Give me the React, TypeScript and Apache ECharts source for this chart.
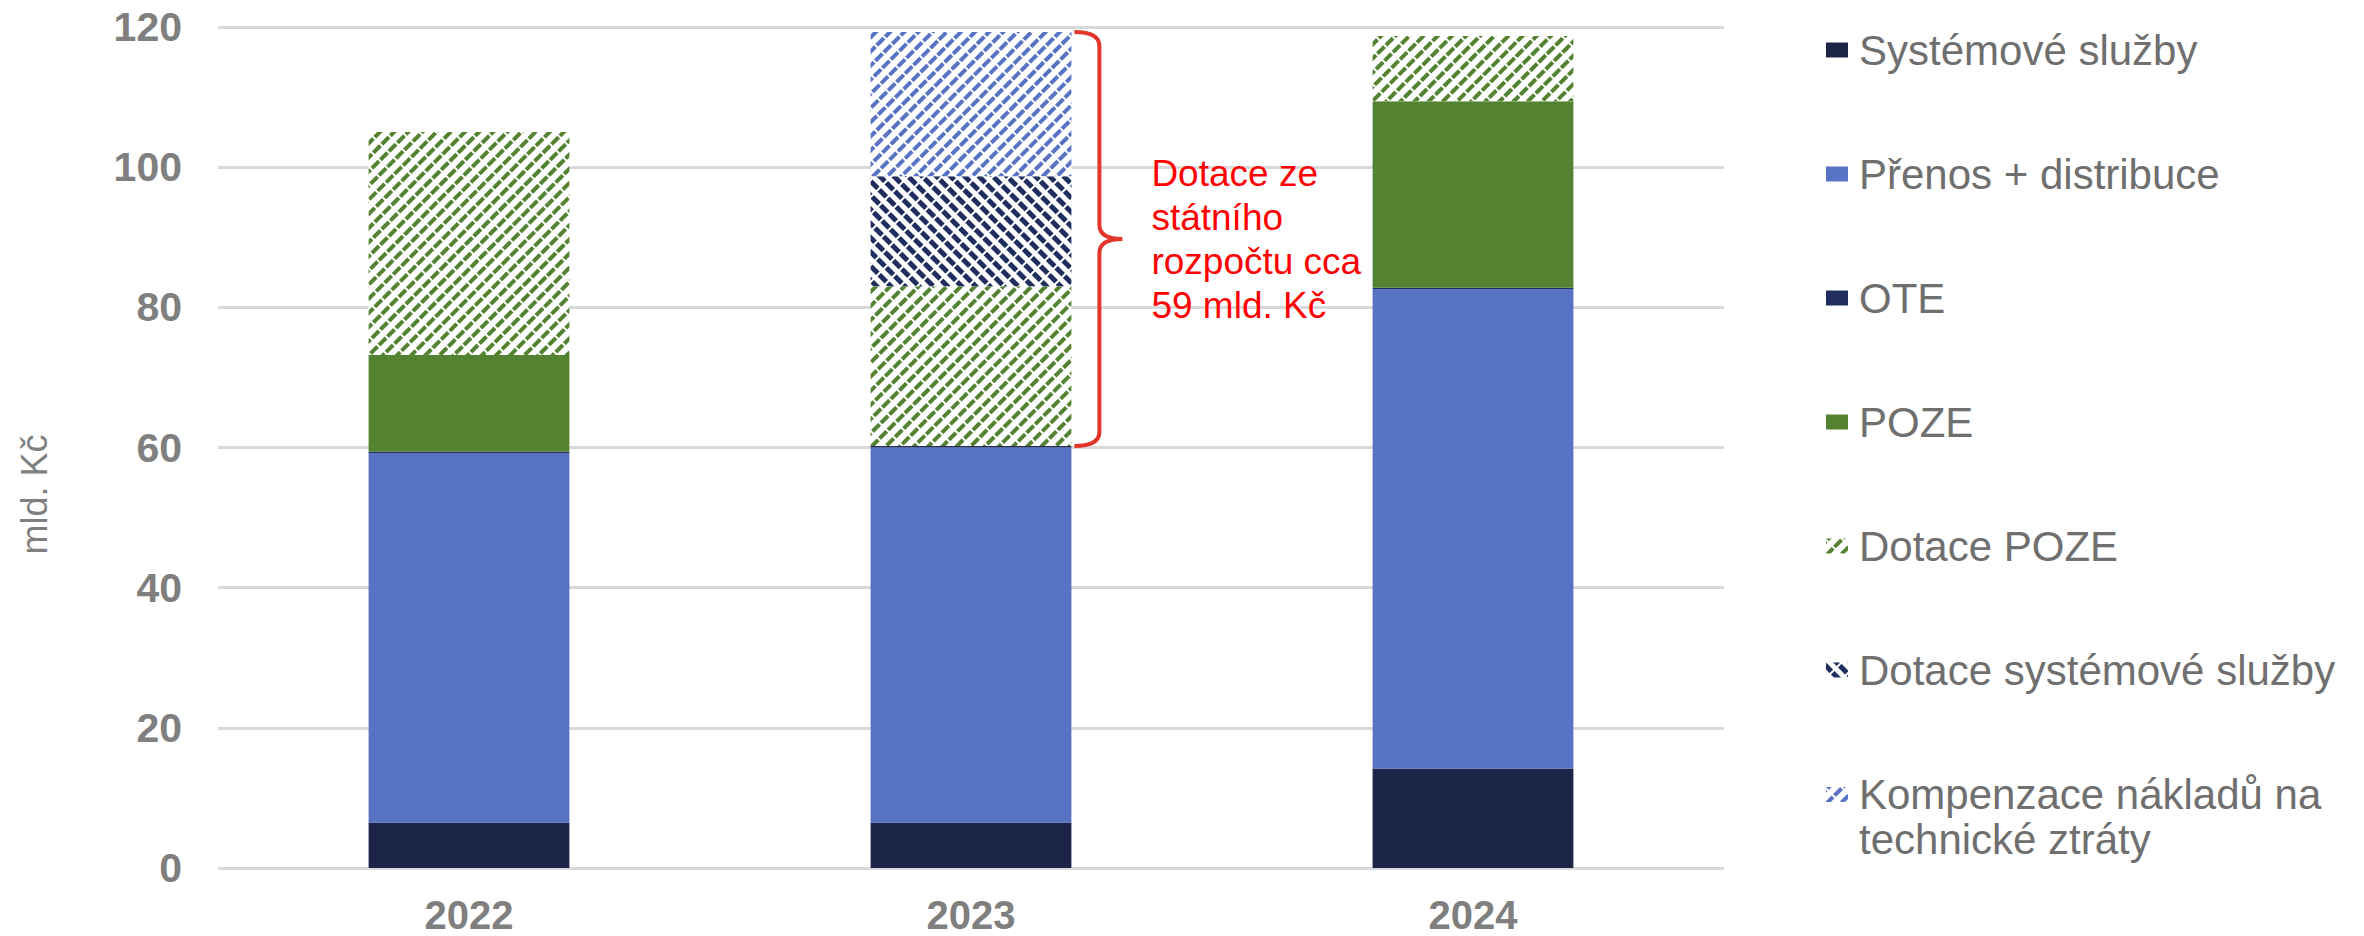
import React, { useEffect, useRef } from "react";
import * as echarts from "echarts";

const years = ["2022", "2023", "2024"];

const NAME_SYS = "Systémové služby";
const NAME_PRENOS = "Přenos + distribuce";
const NAME_OTE = "OTE";
const NAME_POZE = "POZE";
const NAME_DOT_POZE = "Dotace POZE";
const NAME_DOT_SYS = "Dotace systémové služby";
const NAME_KOMP = "Kompenzace nákladů na technické ztráty";

const systemove = [6.5, 6.5, 14.2];
const prenos = [52.7, 53.5, 68.4];
const ote = [0.2, 0.2, 0.2];
const poze = [13.8, 0, 26.6];
const dotacePoze = [31.8, 22.8, 9.3];
const dotaceSys = [0, 15.7, 0];
const kompenzace = [0, 20.6, 0];

const yMin = 0;
const yMax = 120;
const yInterval = 20;

const annotationIndex = 1;
const annotationText = "Dotace ze\nstátního\nrozpočtu cca\n59 mld. Kč";

const FONT = '"Liberation Sans", Arial, Helvetica, sans-serif';

function buildOption() {
  const i = annotationIndex;
  const lo = systemove[i] + prenos[i] + ote[i];
  const hi = lo + poze[i] + dotacePoze[i] + dotaceSys[i] + kompenzace[i];

  const solid = (name: string, data: number[], color: string) => ({
    name,
    type: "bar",
    stack: "total",
    barWidth: "40%",
    data,
    itemStyle: { color },
  });
  const striped = (
    name: string,
    data: number[],
    color: string,
    rotation: number,
    dashY: number[]
  ) => ({
    name,
    type: "bar",
    stack: "total",
    barWidth: "40%",
    data,
    itemStyle: {
      color: "#ffffff",
      decal: {
        symbol: "rect",
        symbolSize: 1,
        dashArrayX: [10, 2],
        dashArrayY: dashY,
        rotation,
        color,
      },
    },
  });

  const legendText = {
    fontSize: 42,
    color: "#6f6f6f",
    fontFamily: FONT,
    lineHeight: 42,
    padding: [0, 0, 0, 6],
  };
  const legendCommon = {
    orient: "vertical",
    left: 1821,
    itemWidth: 22,
    itemHeight: 15,
    itemGap: 82,
    icon: "rect",
    selectedMode: false,
    textStyle: legendText,
  };

  return {
    animation: false,
    backgroundColor: "#ffffff",
    grid: { left: 218, right: 640, top: 27, bottom: 68, containLabel: false },
    legend: [
      {
        ...legendCommon,
        top: 24,
        data: [NAME_SYS, NAME_PRENOS, NAME_OTE, NAME_POZE, NAME_DOT_POZE, NAME_DOT_SYS],
      },
      {
        ...legendCommon,
        top: 722,
        textStyle: { ...legendText, lineHeight: 45 },
        formatter: () => "\nKompenzace nákladů na\ntechnické ztráty",
        data: [NAME_KOMP],
      },
    ],
    xAxis: {
      type: "category",
      data: years,
      axisLine: { show: false },
      axisTick: { show: false },
      axisLabel: {
        fontSize: 40,
        fontWeight: "bold",
        color: "#7f7f7f",
        fontFamily: FONT,
        margin: 27,
      },
    },
    yAxis: {
      type: "value",
      min: yMin,
      max: yMax,
      interval: yInterval,
      name: "mld. Kč",
      nameLocation: "middle",
      nameGap: 166,
      nameTextStyle: {
        fontSize: 36,
        color: "#7f7f7f",
        fontFamily: FONT,
        padding: [0, 94, 0, 0],
      },
      axisLine: { show: false },
      axisTick: { show: false },
      axisLabel: {
        fontSize: 41,
        fontWeight: "bold",
        color: "#7f7f7f",
        fontFamily: FONT,
        margin: 36,
      },
      splitLine: { lineStyle: { color: "#d9d9d9", width: 3 } },
    },
    series: [
      solid(NAME_SYS, systemove, "#1c2448"),
      solid(NAME_PRENOS, prenos, "#5873c3"),
      solid(NAME_OTE, ote, "#1f2e5e"),
      solid(NAME_POZE, poze, "#538331"),
      striped(NAME_DOT_POZE, dotacePoze, "#538331", -Math.PI / 4, [4, 6]),
      striped(NAME_DOT_SYS, dotaceSys, "#1f2e5e", Math.PI / 4, [5, 5]),
      striped(NAME_KOMP, kompenzace, "#5873c3", -Math.PI / 4, [4, 6]),
      {
        type: "custom",
        name: "annotation",
        silent: true,
        z: 10,
        data: [[annotationIndex, lo, hi]],
        encode: { x: 0, y: [1, 2] },
        renderItem: (params: any, api: any) => {
          const idx = api.value(0);
          const top = api.coord([idx, api.value(2)]);
          const bot = api.coord([idx, api.value(1)]);
          const bandW = api.size([1, 0])[0];
          const x0 = top[0] + bandW * 0.2 + 3;
          const x1 = x0 + 25;
          const x2 = x0 + 48;
          const yT = top[1];
          const yB = bot[1];
          const yM = (yT + yB) / 2;
          const r = 14;
          const d =
            `M${x0} ${yT} Q${x1} ${yT} ${x1} ${yT + r} L${x1} ${yM - r} ` +
            `Q${x1} ${yM} ${x2} ${yM} Q${x1} ${yM} ${x1} ${yM + r} ` +
            `L${x1} ${yB - r} Q${x1} ${yB} ${x0} ${yB}`;
          return {
            type: "group",
            children: [
              {
                type: "path",
                shape: { pathData: d },
                style: { fill: "none", stroke: "#e2362c", lineWidth: 4 },
              },
              {
                type: "text",
                x: x0 + 77,
                y: yM,
                style: {
                  text: annotationText,
                  fill: "#ff0000",
                  font: `37px ${FONT}`,
                  lineHeight: 44,
                  align: "left",
                  verticalAlign: "middle",
                },
              },
            ],
          };
        },
      },
    ],
  };
}

export default function App() {
  const ref = useRef<HTMLDivElement>(null);
  useEffect(() => {
    if (!ref.current) return;
    const chart = echarts.init(ref.current, null, { renderer: "svg" });
    chart.setOption(buildOption() as any);
    return () => chart.dispose();
  }, []);
  return (
    <div
      ref={ref}
      style={{
        position: "fixed",
        left: 0,
        top: 0,
        width: 2364,
        height: 936,
        background: "#ffffff",
      }}
    />
  );
}
